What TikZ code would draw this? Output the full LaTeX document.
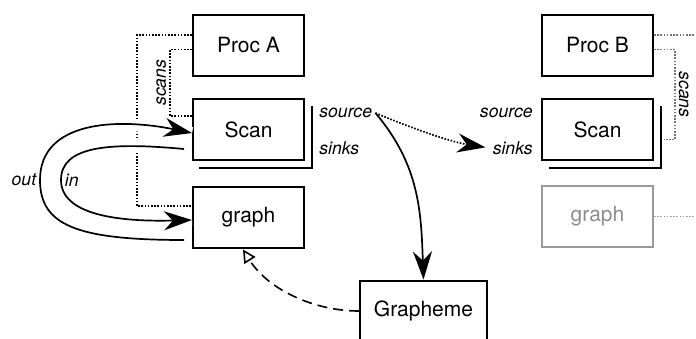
\documentclass[tikz,border=0pt]{standalone}
\usepackage{fontspec}
\setmainfont{TeX Gyre Heros}
\usetikzlibrary{arrows.meta, calc}

\begin{document}
\begin{tikzpicture}[x=0.5pt, y=-0.5pt,
    box/.style={draw, line width=1pt, minimum width=55.5pt, minimum height=30.5pt,
        inner sep=0pt, font=\fontsize{10.5}{12}\selectfont},
    port/.style={inner sep=1.5pt, font=\fontsize{8.8}{10}\selectfont\itshape},
    link/.style={line width=0.8pt, dash pattern=on 0.8pt off 0.8pt},
    flow/.style={line width=0.85pt, -{Stealth[length=14pt, width=9.5pt, inset=4.5pt]}},
    halo/.style={preaction={draw=white, line width=6pt, -}}]
    \useasboundingbox (0,0) rectangle (696,338);

    % Процесс A
    \node[box] (procA) at (248.5,45.5) {Proc A};
    \node[box] (scanA) at (248.5,129.5) {Scan};
    \node[box] (graphA) at (248.5,217) {graph};
    \draw[line width=1pt] ($(scanA.south west)+(7,7)$) -| ($(scanA.north east)+(7,8)$);
    \node[port, anchor=west] (srcA) at (316,113) {source};
    \node[port, anchor=west] (sinksA) at (316,148) {sinks};

    % Процесс B
    \node[box] (procB) at (597.5,45.5) {Proc B};
    \node[box] (scanB) at (597.5,129.5) {Scan};
    \node[box, draw=black!40, text=black!45] (graphB) at (597.5,216.5) {graph};
    \draw[line width=1pt] ($(scanB.south west)+(8,7)$) -| ($(scanB.north east)+(7,8)$);
    \node[port, anchor=east] (srcB) at (536,113) {source};
    \node[port, anchor=east] (sinksB) at (536,148) {sinks};

    % Графема
    \node[box, minimum width=63.5pt] (graphm) at (423.5,311) {Grapheme};

    % Пунктирные связи
    \draw[link] ($(procA.west)+(0,-10.5)$) -- ++(-55,0) |- ($(graphA.west)+(0,-11)$);
    \draw[link] ($(procA.west)+(0,4)$) -- ++(-22,0)
        |- node[port, pos=0.25, above, rotate=90] {scans} ($(scanA.west)+(0,-13.5)$);
    \draw[link, black!55] ($(procB.east)+(0,-10.5)$) -- ++(43,0);
    \draw[link, black!55] ($(procB.east)+(0,4)$) -- ++(21,0)
        |- node[port, pos=0.25, above, rotate=-90, text=black] {scans} ($(scanB.east)+(10,10)$);
    \draw[link, black!35] (graphB.east) -- ++(43,0);

    % Петли out / in
    \draw[flow, halo] ($(graphA.west)+(-8,23)$) .. controls +(-108,0) and +(0,45) .. ++(-144,-60)
        node[port, left] {out} .. controls +(0,-60) and +(-73,-15) .. ($(scanA.west)+(0,3.5)$);
    \draw[flow, halo] ($(scanA.west)+(-8,19.5)$) .. controls +(-75,-7) and +(0,-34) .. ++(-123,31)
        node[port, right] {in} .. controls +(0,35) and +(-73,2) .. ($(graphA.west)+(0,3)$);

    % Стрелки от source
    \draw[flow] (srcA.east) .. controls +(44,52) and +(-2.4,-68) .. (graphm.north);
    \draw[link, line width=0.85pt, -{Stealth[length=14pt, width=9.5pt, inset=4.5pt]}, shorten >=2pt]
        (srcA.east) .. controls +(38,16) and +(-38,-6) .. (sinksB.west);

    % Grapheme -> graph
    \draw[line width=0.8pt, dash pattern=on 5pt off 3pt, -{Triangle[open, length=6.5pt, width=6.5pt]}]
        (graphm.west) .. controls +(-45,0) and +(25,40) .. ($(graphA.south)+(-5.5,1)$);
\end{tikzpicture}
\end{document}
